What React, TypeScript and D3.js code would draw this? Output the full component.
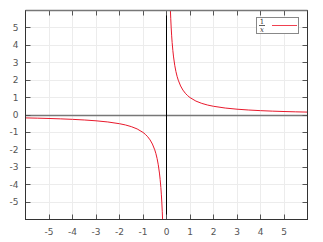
import React from "react";
import * as d3 from "d3";

const xTicks = [-5, -4, -3, -2, -1, 0, 1, 2, 3, 4, 5];
const yTicks = [-5, -4, -3, -2, -1, 0, 1, 2, 3, 4, 5];
const xDomain = [-6, 6];
const yDomain = [-6, 6];
const negXs = [-6, -5.5, -5, -4.5, -4, -3.5, -3, -2.5, -2, -1.75, -1.5, -1.25, -1, -0.9, -0.8, -0.7, -0.6, -0.5, -0.45, -0.4, -0.35, -0.3, -0.27, -0.24, -0.22, -0.2, -0.18, -0.166];
const posXs = negXs.map((v) => -v).reverse();

export default function App() {
  const W = 323, H = 242;
  const L = 25.5, R = 307.5, T = 10.5, B = 219.5;
  const x = d3.scaleLinear().domain(xDomain).range([L, R]);
  const y = d3.scaleLinear().domain(yDomain).range([B, T]);
  const px = (v: number) => Math.round(x(v) - 0.5) + 0.5;
  const py = (v: number) => Math.round(y(v) - 0.5) + 0.5;
  const line = d3.line<number>().x((d) => x(d)).y((d) => y(1 / d));
  const font = "'DejaVu Sans', sans-serif";
  const tickCol = "#555";
  const red = "#e8192c";
  return (
    <svg width={W} height={H} style={{ position: "absolute", left: 0, top: 0 }} fontFamily={font}>
      <rect x={0} y={0} width={W} height={H} fill="#fff" />
      <defs>
        <clipPath id="pc">
          <rect x={L} y={T} width={R - L} height={B - T} />
        </clipPath>
      </defs>
      {xTicks.map((t) => (
        <line key={"gx" + t} x1={px(t)} x2={px(t)} y1={T} y2={B} stroke="#ececec" strokeWidth={1} />
      ))}
      {yTicks.map((t) => (
        <line key={"gy" + t} x1={L} x2={R} y1={py(t)} y2={py(t)} stroke="#ececec" strokeWidth={1} />
      ))}
      <line x1={L} x2={R} y1={py(0)} y2={py(0)} stroke="#777" strokeWidth={1.5} />
      <line x1={px(0)} x2={px(0)} y1={T} y2={B} stroke="#000" strokeWidth={1} />
      <g clipPath="url(#pc)">
        <path d={line(negXs) || ""} fill="none" stroke={red} strokeWidth={1} />
        <path d={line(posXs) || ""} fill="none" stroke={red} strokeWidth={1} />
      </g>
      {xTicks.map((t) => (
        <g key={"tx" + t}>
          <line x1={px(t)} x2={px(t)} y1={B} y2={B - 5} stroke={tickCol} strokeWidth={1} />
          <line x1={px(t)} x2={px(t)} y1={T} y2={T + 5} stroke={tickCol} strokeWidth={1} />
          <text x={x(t)} y={B + 15} textAnchor="middle" fontSize={9} fill="#555">{t}</text>
        </g>
      ))}
      {yTicks.map((t) => (
        <g key={"ty" + t}>
          <line x1={L} x2={L + 5} y1={py(t)} y2={py(t)} stroke={tickCol} strokeWidth={1} />
          <line x1={R} x2={R - 5} y1={py(t)} y2={py(t)} stroke={tickCol} strokeWidth={1} />
          <text x={L - 7} y={y(t) + 3} textAnchor="end" fontSize={9} fill="#555">{t}</text>
        </g>
      ))}
      <rect x={L} y={T} width={R - L} height={B - T} fill="none" stroke="#333" strokeWidth={1} />
      <line x1={L} x2={R} y1={T} y2={T} stroke="#777" strokeWidth={1.5} />
      <g>
        <rect x={256.5} y={17.5} width={42} height={16} fill="#fff" stroke="#888" strokeWidth={1} />
        <text x={262} y={24} textAnchor="middle" fontSize={7} fill="#333" fontFamily="'DejaVu Serif', serif">1</text>
        <rect x={259} y={25} width={6} height={0.8} fill="#333" />
        <text x={262} y={32} textAnchor="middle" fontSize={7} fontStyle="italic" fill="#333" fontFamily="'DejaVu Serif', serif">x</text>
        <rect x={272} y={25} width={25} height={1} fill="#f04050" />
      </g>
    </svg>
  );
}
